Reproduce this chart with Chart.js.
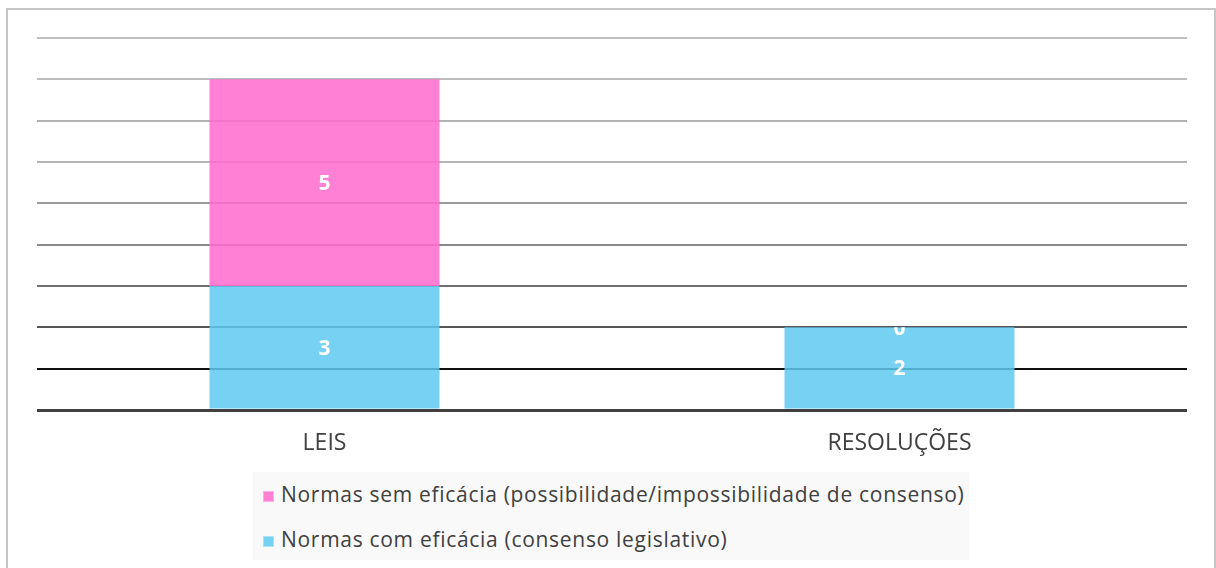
<!DOCTYPE html>
<html>
<head>
<meta charset="utf-8">
<script src="https://cdn.jsdelivr.net/npm/chart.js@4.4.1/dist/chart.umd.min.js"></script>
<style>
  html, body { margin: 0; padding: 0; background: #fff; overflow: hidden; }
  #wrap { position: relative; width: 1216px; height: 568px; }
  #frame { position: absolute; left: 6px; top: 8px; width: 1210px; height: 620px; box-sizing: border-box; border: 2px solid #c6c6c6; pointer-events: none; }
  #chart { position: absolute; left: 0; top: 0; }
  #legend { position: absolute; left: 253px; top: 472px; width: 716px; height: 88px; background: #f9f9f9; font-family: "Open Sans", "Noto Sans", sans-serif; font-size: 21px; letter-spacing: 0.7px; color: #404040; }
  .item { position: absolute; left: 10px; height: 26px; line-height: 26px; white-space: nowrap; }
  .sw { display: inline-block; width: 11px; height: 11px; margin-right: 7px; vertical-align: 0px; box-sizing: border-box; }
</style>
</head>
<body>
<div id="wrap">
  <canvas id="chart" width="1216" height="568"></canvas>
  <div id="legend"></div>
  <div id="frame"></div>
</div>
<script>
// ---- data ----
const categories = ["LEIS", "RESOLUÇÕES"];
const comEficacia = [3, 2];
const semEficacia = [5, 0];
const seriesNames = [
  "Normas com eficácia (consenso legislativo)",
  "Normas sem eficácia (possibilidade/impossibilidade de consenso)"
];
const yTicks = [0, 1, 2, 3, 4, 5, 6, 7, 8, 9];

// ---- styles ----
const FONT = '"Open Sans", "Noto Sans", sans-serif';
const gridColors = ['#404040', '#111111', '#555555', '#707070', '#8a8a8a', '#9a9a9a', '#b4b4b4', '#b2b2b2', '#bcbcbc', '#c0c0c0'];
const blue = 'rgba(95,201,241,0.85)';
const pink = 'rgba(255,106,204,0.85)';

const labelPlugin = {
  id: 'segLabels',
  afterDatasetsDraw(chart) {
    const ctx = chart.ctx;
    const metas = chart.data.datasets.map((d, i) => chart.getDatasetMeta(i));
    categories.forEach((c, idx) => {
      const els = metas.map(m => m.data[idx]);
      const top = Math.min(...els.map(e => e.y));
      const base = els[0].base;
      els.forEach((el, di) => {
        const w = el.width;
        ctx.save();
        ctx.beginPath();
        ctx.rect(el.x - w / 2, top, w, base - top);
        ctx.clip();
        ctx.fillStyle = '#ffffff';
        ctx.font = 'bold 21px ' + FONT;
        ctx.textAlign = 'center';
        ctx.textBaseline = 'middle';
        const v = chart.data.datasets[di].data[idx];
        ctx.fillText(String(v), el.x, (el.y + el.base) / 2 + 1.5);
        ctx.restore();
      });
    });
  }
};

const chart = new Chart(document.getElementById('chart'), {
  type: 'bar',
  data: {
    labels: categories,
    datasets: [
      { label: seriesNames[0], data: comEficacia, backgroundColor: blue, borderWidth: 0 },
      { label: seriesNames[1], data: semEficacia, backgroundColor: pink, borderWidth: 0 }
    ]
  },
  options: {
    responsive: false,
    animation: false,
    events: [],
    layout: { padding: { left: 37, right: 29, top: 38, bottom: 108 } },
    datasets: { bar: { categoryPercentage: 1, barPercentage: 0.4 } },
    plugins: { legend: { display: false }, tooltip: { enabled: false } },
    scales: {
      x: {
        stacked: true,
        grid: { display: false, drawTicks: false },
        border: { display: false },
        afterFit(scale) { scale.height = 50; },
        ticks: { color: '#404040', padding: 20, maxRotation: 0, font: { family: FONT, size: 23 } }
      },
      y: {
        stacked: true,
        min: yTicks[0],
        max: yTicks[yTicks.length - 1],
        afterBuildTicks(scale) { scale.ticks = yTicks.map(v => ({ value: v })); },
        ticks: { display: false, stepSize: 1 },
        border: { display: false },
        grid: {
          drawTicks: false,
          color: ctx => gridColors[ctx.index] || '#c0c0c0',
          lineWidth: ctx => ctx.index === 0 ? 3 : 2
        }
      }
    }
  },
  plugins: [labelPlugin]
});

// legend built from chart datasets (reversed order like the reference)
const legend = document.getElementById('legend');
const swColors = ['#77d1f3', '#ff80d4'];
const swBorders = ['#a8e2f7', '#ffaee3'];
const order = [1, 0];
order.forEach((di, row) => {
  const it = document.createElement('div');
  it.className = 'item';
  it.style.top = (row === 0 ? 9 : 54) + 'px';
  const sw = document.createElement('span');
  sw.className = 'sw';
  sw.style.background = swColors[di];
  sw.style.border = '1px solid ' + swBorders[di];
  it.appendChild(sw);
  it.appendChild(document.createTextNode(chart.data.datasets[di].label));
  legend.appendChild(it);
});
</script>
</body>
</html>
